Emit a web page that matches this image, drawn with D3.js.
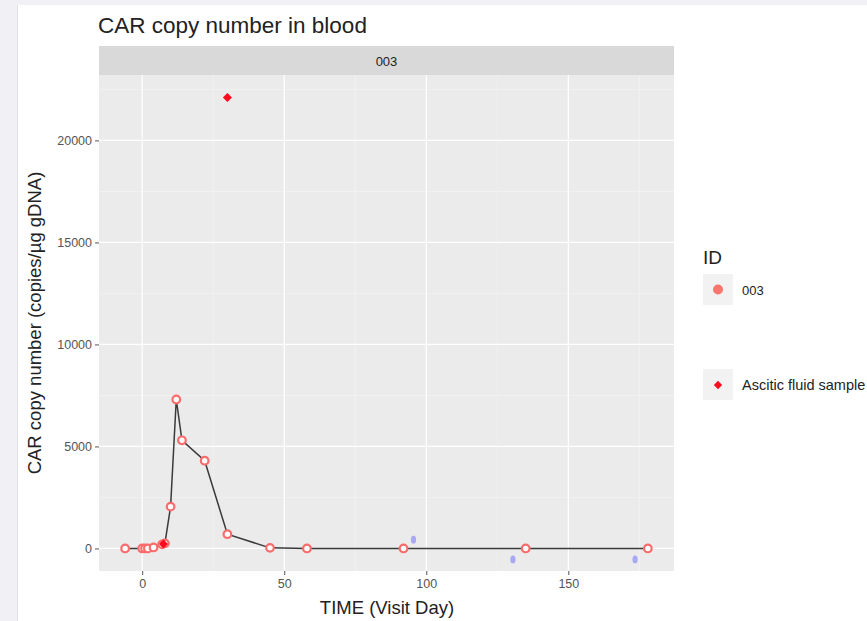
<!DOCTYPE html>
<html><head><meta charset="utf-8">
<script src="https://cdn.jsdelivr.net/npm/d3@7"></script>
<style>
html,body{margin:0;padding:0;background:#f1f1f5;}
svg{display:block;font-family:"Liberation Sans",Arial,sans-serif;}
</style></head>
<body>
<svg id="chart" width="867" height="621"></svg>
<script>
// Blood CAR copy number (ID 003)
const bloodDays   = [-6, 0, 1, 2, 4, 7, 8, 10, 12, 14, 22, 30, 45, 58, 92, 135, 178];
const bloodValues = [0, 0, 0, 0, 50, 200, 250, 2050, 7300, 5300, 4300, 700, 30, 0, 0, 0, 0];
// Ascitic fluid samples
const asciticDays   = [7.5, 30];
const asciticValues = [220, 22100];
// Small blue marks
const blueDays   = [95.5, 130.5, 173.5];
const blueValues = [430, -540, -540];
const xTicks = [0, 50, 100, 150];
const yTicks = [0, 5000, 10000, 15000, 20000];
const xMinor = [-25, 25, 75, 125, 175];
const yMinor = [2500, 7500, 12500, 17500, 22500];

const svg = d3.select("#chart");
svg.append("rect").attr("x",18).attr("y",5).attr("width",849).attr("height",616).attr("fill","#ffffff");
svg.append("rect").attr("x",17).attr("y",5).attr("width",1).attr("height",616).attr("fill","#e2e2e6");

const P = {l:99, r:674, t:75, b:571};
const allX = bloodDays.concat(asciticDays);
const allY = bloodValues.concat(asciticValues);
const xr = d3.extent(allX), yr = d3.extent(allY);
const xe = (xr[1]-xr[0])*0.05, ye = (yr[1]-yr[0])*0.05;
const x = d3.scaleLinear().domain([xr[0]-xe, xr[1]+xe]).range([P.l, P.r]);
const y = d3.scaleLinear().domain([yr[0]-ye, yr[1]+ye]).range([P.b, P.t]);
const TXT = "#222";

// title
svg.append("text").attr("x",98).attr("y",33).attr("font-size",22.5).attr("fill",TXT).text("CAR copy number in blood");
// strip
svg.append("rect").attr("x",P.l).attr("y",46).attr("width",P.r-P.l).attr("height",P.t-46).attr("fill","#d9d9d9");
svg.append("text").attr("x",(P.l+P.r)/2).attr("y",65.5).attr("text-anchor","middle").attr("font-size",13).attr("fill",TXT).text("003");
// panel
svg.append("rect").attr("x",P.l).attr("y",P.t).attr("width",P.r-P.l).attr("height",P.b-P.t).attr("fill","#ebebeb");
const g = svg.append("g");
g.selectAll(".ymin").data(yMinor.filter(v=>y(v)>P.t)).join("line")
 .attr("x1",P.l).attr("x2",P.r).attr("y1",d=>y(d)).attr("y2",d=>y(d)).attr("stroke","#f5f5f5").attr("stroke-width",0.6);
g.selectAll(".xmin").data(xMinor.filter(v=>x(v)>P.l&&x(v)<P.r)).join("line")
 .attr("y1",P.t).attr("y2",P.b).attr("x1",d=>x(d)).attr("x2",d=>x(d)).attr("stroke","#f5f5f5").attr("stroke-width",0.6);
g.selectAll(".ymaj").data(yTicks).join("line")
 .attr("x1",P.l).attr("x2",P.r).attr("y1",d=>y(d)).attr("y2",d=>y(d)).attr("stroke","#ffffff").attr("stroke-width",1.2);
g.selectAll(".xmaj").data(xTicks).join("line")
 .attr("y1",P.t).attr("y2",P.b).attr("x1",d=>x(d)).attr("x2",d=>x(d)).attr("stroke","#ffffff").attr("stroke-width",1.2);

// axes
const ax = svg.append("g").attr("transform",`translate(0,${P.b})`)
  .call(d3.axisBottom(x).tickValues(xTicks).tickSize(4).tickPadding(4).tickFormat(d3.format("d")));
const ay = svg.append("g").attr("transform",`translate(${P.l},0)`)
  .call(d3.axisLeft(y).tickValues(yTicks).tickSize(4).tickPadding(3).tickFormat(d3.format("d")));
[ax,ay].forEach(a=>{
  a.select(".domain").remove();
  a.selectAll(".tick line").attr("stroke","#555").attr("stroke-width",1);
  a.selectAll(".tick text").attr("fill","#555").attr("font-size",12.5).attr("font-family","Liberation Sans,Arial,sans-serif");
});
svg.append("text").attr("x",387).attr("y",614).attr("text-anchor","middle").attr("font-size",18.5).attr("fill",TXT).text("TIME (Visit Day)");
svg.append("text").attr("transform",`translate(41,${(P.t+P.b)/2}) rotate(-90)`).attr("text-anchor","middle").attr("font-size",18.5).attr("fill",TXT).text("CAR copy number (copies/µg gDNA)");

// line
const pts = bloodDays.map((d,i)=>[d,bloodValues[i]]);
svg.append("path").datum(pts).attr("fill","none").attr("stroke","#3a3a3a").attr("stroke-width",1.5)
  .attr("d",d3.line().x(d=>x(d[0])).y(d=>y(d[1])));
// blood points
svg.selectAll(".bp").data(pts).join("circle")
  .attr("cx",d=>x(d[0])).attr("cy",d=>y(d[1])).attr("r",3.8)
  .attr("fill","#ffffff").attr("stroke","#fa6b6b").attr("stroke-width",2.2);
// ascitic diamonds
const sym = d3.symbol().type(d3.symbolDiamond2).size(52);
svg.selectAll(".ap").data(asciticDays.map((d,i)=>[d,asciticValues[i]])).join("path")
  .attr("transform",d=>`translate(${x(d[0])},${y(d[1])})`).attr("d",sym).attr("fill","#ff0a1e");
// blue marks
svg.selectAll(".bm").data(blueDays.map((d,i)=>[d,blueValues[i]])).join("ellipse")
  .attr("cx",d=>x(d[0])).attr("cy",d=>y(d[1])).attr("rx",2.6).attr("ry",3.9)
  .attr("fill","#9d9df5").attr("opacity",0.85);

// legend
svg.append("text").attr("x",703).attr("y",264).attr("font-size",19).attr("fill",TXT).text("ID");
svg.append("rect").attr("x",703).attr("y",274).attr("width",30).attr("height",31).attr("fill","#f2f2f2");
svg.append("circle").attr("cx",718).attr("cy",289.5).attr("r",5).attr("fill","#f8766d");
svg.append("text").attr("x",742).attr("y",294.5).attr("font-size",13).attr("fill",TXT).text("003");
svg.append("rect").attr("x",703).attr("y",369).attr("width",30).attr("height",31).attr("fill","#f2f2f2");
svg.append("path").attr("transform","translate(718,385)").attr("d",d3.symbol().type(d3.symbolDiamond2).size(44)).attr("fill","#ff0a1e");
svg.append("text").attr("x",742).attr("y",390).attr("font-size",14.5).attr("fill",TXT).text("Ascitic fluid sample");
</script>
</body></html>
